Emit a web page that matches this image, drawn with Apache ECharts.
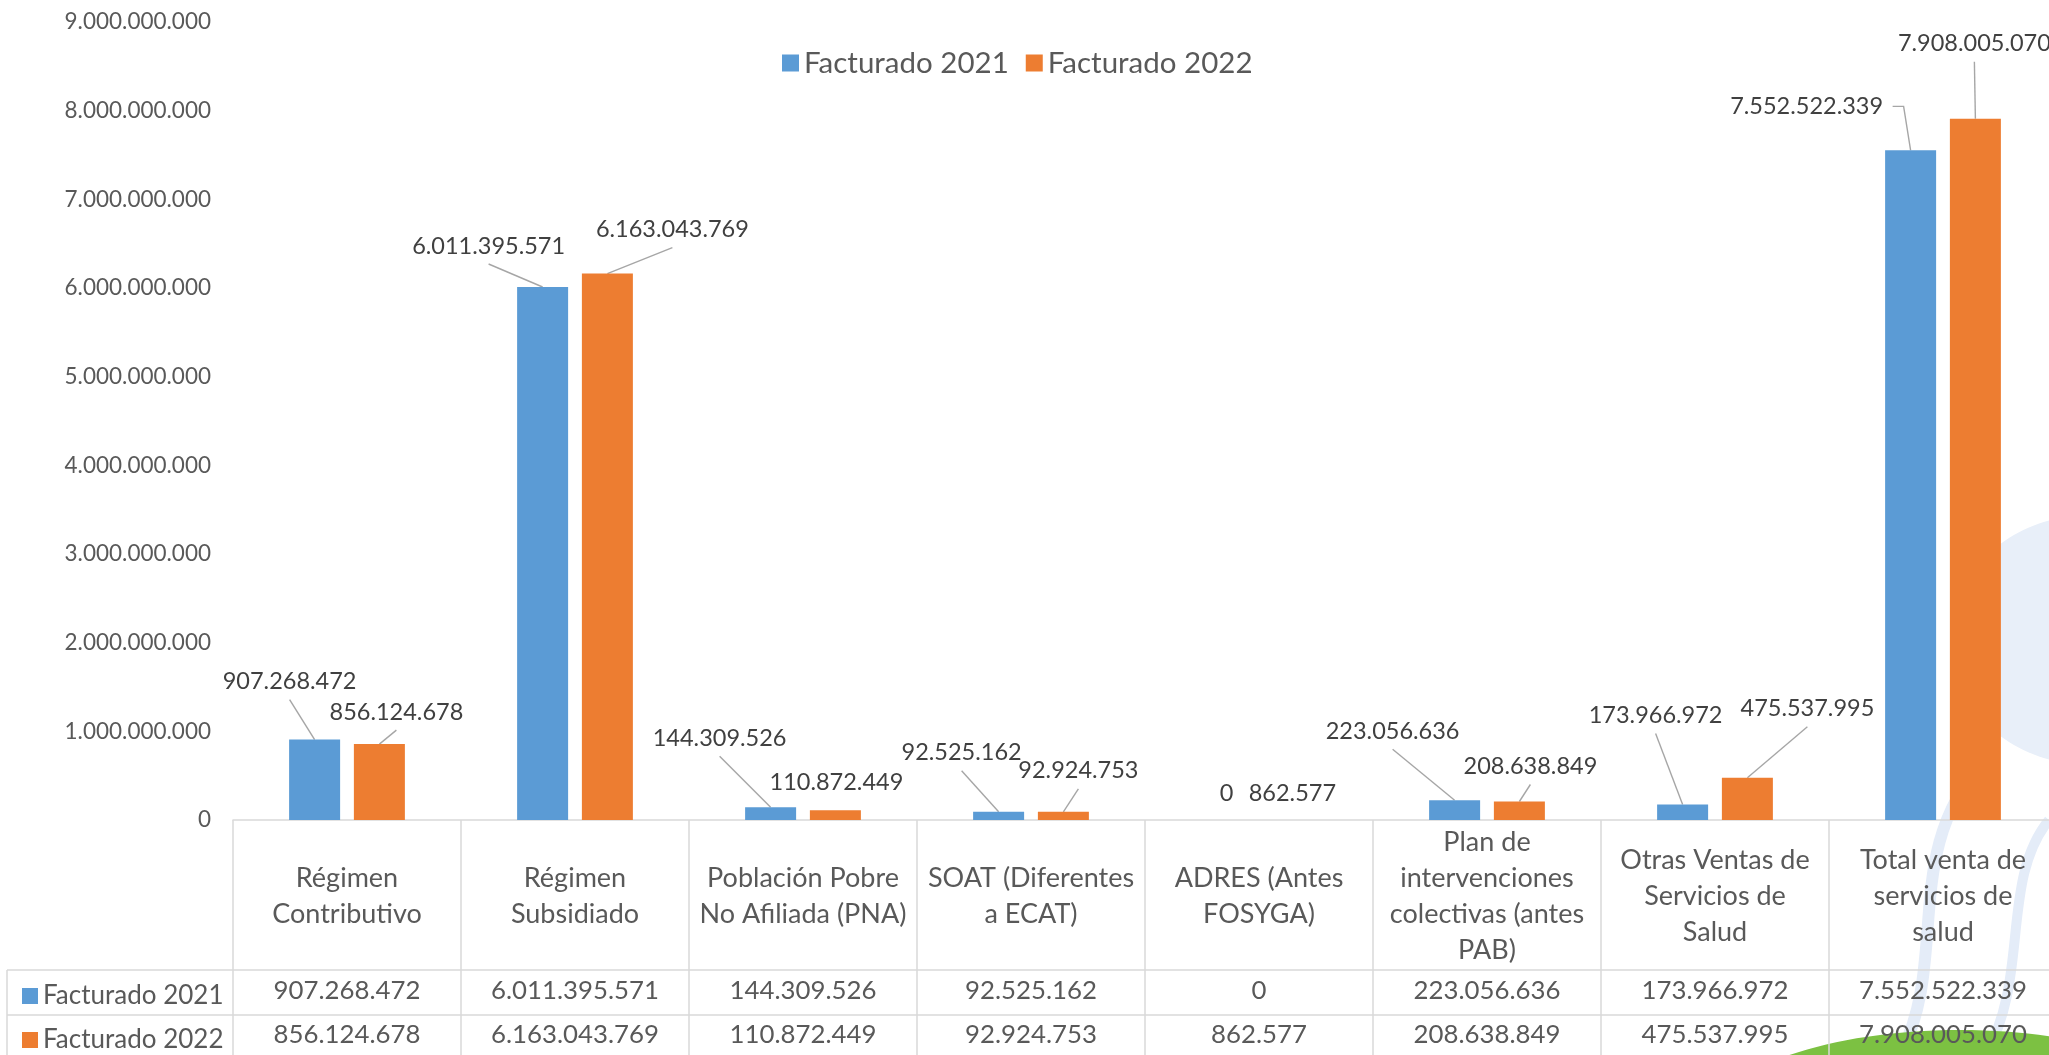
<!DOCTYPE html>
<html>
<head>
<meta charset="utf-8">
<script src="https://cdn.jsdelivr.net/npm/echarts@6/dist/echarts.min.js"></script>
<style>
  html, body { margin: 0; padding: 0; background: #ffffff; }
  #chart { width: 2049px; height: 1055px; }
</style>
</head>
<body>
<div id="chart"></div>
<script>
// Categories (line breaks follow the wrapping of the table header cells)
const categories = [
  'Régimen\nContributivo',
  'Régimen\nSubsidiado',
  'Población Pobre\nNo Afiliada (PNA)',
  'SOAT (Diferentes\na ECAT)',
  'ADRES (Antes\nFOSYGA)',
  'Plan de\nintervenciones\ncolectivas (antes\nPAB)',
  'Otras Ventas de\nServicios de\nSalud',
  'Total venta de\nservicios de\nsalud'
];
const seriesNames = ['Facturado 2021', 'Facturado 2022'];
const facturado2021 = [907268472, 6011395571, 144309526, 92525162, 0, 223056636, 173966972, 7552522339];
const facturado2022 = [856124678, 6163043769, 110872449, 92924753, 862577, 208638849, 475537995, 7908005070];
const yMin = 0;
const yMax = 9000000000;
const yInterval = 1000000000;

// Label placement: offset of each value label from the top-centre of its bar (px)
const labelOffsets = [
  [[-25, -58], [-54, -41], [-51, -69], [-37, -59], [0, -27], [-62, -69], [-27, -89], [-104, -44]],
  [[17, -32], [65, -44], [1, -28], [15, -41], [1, -27], [11, -35], [60, -69], [-1, -75]]
];
// Leader line start, relative to the label centre; null = no leader.
// The line then runs to the top-centre of the bar.
const UNDER = [[0, 18]];
const leaderStarts = [
  [UNDER, UNDER, UNDER, UNDER, null, UNDER, UNDER, [[86, 0], [97, 0]]],
  [UNDER, UNDER, null, UNDER, null, UNDER, UNDER, UNDER]
];

const COLORS = ['#5B9BD5', '#ED7D31'];
const FONT = 'Lato';
const BAR_WIDTH = 51;
const BAR_GAP = 0.27;
const AXIS_Y = 820;          // baseline of the plot / top of the data table
const ROW1_Y = 991;          // centre of the "Facturado 2021" table row
const ROW2_Y = 1035;         // centre of the "Facturado 2022" table row
const RULE_Y1 = 970;         // rule above the first value row
const RULE_Y2 = 1015;        // rule between the two value rows
const RULE_COLOR = '#d9d9d9';
const LEADER_COLOR = '#a6a6a6';

const fmt = v => String(Math.round(v)).replace(/\B(?=(\d{3})+(?!\d))/g, '.');

// horizontal distance from the category centre to the centre of each bar
const barShift = s => (s === 0 ? -1 : 1) * BAR_WIDTH * (1 + BAR_GAP) / 2;

function barSeries(s, values) {
  return {
    name: seriesNames[s],
    type: 'bar',
    xAxisIndex: 0,
    barWidth: BAR_WIDTH,
    barGap: (BAR_GAP * 100) + '%',
    data: values,
    itemStyle: { color: COLORS[s] },
    label: {
      show: true,
      position: 'top',
      formatter: p => fmt(p.value),
      fontSize: 23.5,
      fontFamily: FONT,
      color: '#404040'
    },
    labelLayout: p => {
      const o = labelOffsets[s][p.dataIndex];
      return {
        x: p.rect.x + p.rect.width / 2 + o[0],
        y: p.rect.y + o[1],
        align: 'center',
        verticalAlign: 'middle'
      };
    },
    z: 3
  };
}

// leader lines from each moved label down to the top of its bar
function leaderSeries(s, values) {
  return {
    name: seriesNames[s] + ' (guías)',
    type: 'custom',
    xAxisIndex: 0,
    yAxisIndex: 0,
    silent: true,
    z: 2,
    data: values.map((v, i) => [i, v]),
    renderItem: (params, api) => {
      const i = params.dataIndex;
      const start = leaderStarts[s][i];
      if (!start) return null;
      const top = api.coord([api.value(0), api.value(1)]);
      const bx = top[0] + barShift(s);
      const by = top[1];
      const o = labelOffsets[s][i];
      const lx = bx + o[0];
      const ly = by + o[1];
      const points = start.map(p => [lx + p[0], ly + p[1]]);
      points.push([bx, by]);
      return {
        type: 'polyline',
        shape: { points: points },
        style: { stroke: LEADER_COLOR, lineWidth: 1.4, fill: null }
      };
    }
  };
}

function valueRowAxis(offset, values) {
  return {
    type: 'category',
    data: categories,
    position: 'bottom',
    offset: offset,
    axisLine: { show: false },
    axisTick: { show: false },
    axisLabel: {
      interval: 0,
      margin: 0,
      verticalAlign: 'middle',
      formatter: (v, i) => fmt(values[i]),
      fontSize: 25.8,
      fontFamily: FONT,
      color: '#595959'
    }
  };
}

// one-entry legend placed in the first column of a table row
function rowLegend(name, rowY) {
  return {
    data: [name],
    left: 17,
    top: rowY - 15,
    icon: 'rect',
    itemWidth: 16,
    itemHeight: 16,
    selectedMode: false,
    textStyle: { fontSize: 26, lineHeight: 30, color: '#595959', fontFamily: FONT }
  };
}

const chart = echarts.init(document.getElementById('chart'), null, { renderer: 'canvas' });

chart.setOption({
  animation: false,
  backgroundColor: '#ffffff',
  textStyle: { fontFamily: FONT },
  grid: {
    left: 233, width: 1824, top: 22, height: AXIS_Y - 22,
    containLabel: false,
    outerBoundsMode: 'none'
  },
  legend: [
    {
      data: seriesNames,
      left: 777,
      top: 43,
      icon: 'rect',
      itemWidth: 17,
      itemHeight: 17,
      itemGap: 17,
      selectedMode: false,
      textStyle: { fontSize: 29.5, color: '#595959', fontFamily: FONT }
    },
    rowLegend(seriesNames[0], ROW1_Y),
    rowLegend(seriesNames[1], ROW2_Y)
  ],
  xAxis: [
    {
      type: 'category',
      data: categories,
      axisLine: { show: true, lineStyle: { color: RULE_COLOR, width: 1.5 } },
      axisTick: { show: true, alignWithLabel: false, length: 260, lineStyle: { color: RULE_COLOR, width: 1.5 } },
      axisLabel: {
        interval: 0,
        margin: 76,
        verticalAlign: 'middle',
        align: 'center',
        lineHeight: 36,
        fontSize: 27,
        fontFamily: FONT,
        color: '#595959'
      },
      splitLine: { show: false }
    },
    valueRowAxis(ROW1_Y - AXIS_Y, facturado2021),
    valueRowAxis(ROW2_Y - AXIS_Y, facturado2022)
  ],
  yAxis: {
    type: 'value',
    min: yMin,
    max: yMax,
    interval: yInterval,
    axisLine: { show: false },
    axisTick: { show: false },
    splitLine: { show: false },
    axisLabel: {
      formatter: v => fmt(v),
      margin: 22,
      fontSize: 22.5,
      fontFamily: FONT,
      color: '#595959'
    }
  },
  graphic: [
    // soft watermark figure behind the right-hand columns
    { type: 'ellipse', shape: { cx: 2090, cy: 640, rx: 140, ry: 125 }, style: { fill: '#e8eff9' }, z: -10, silent: true },
    { type: 'bezierCurve', shape: { x1: 1985, y1: 760, x2: 1900, y2: 1055, cpx1: 1900, cpy1: 850, cpx2: 1950, cpy2: 960 },
      style: { stroke: '#e4ecf8', lineWidth: 12, fill: null }, z: -10, silent: true },
    { type: 'bezierCurve', shape: { x1: 2049, y1: 820, x2: 1985, y2: 1055, cpx1: 2000, cpy1: 880, cpx2: 2030, cpy2: 980 },
      style: { stroke: '#e4ecf8', lineWidth: 10, fill: null }, z: -10, silent: true },
    { type: 'ellipse', shape: { cx: 1960, cy: 1132, rx: 260, ry: 102 }, style: { fill: '#7cc142' }, z: -9, silent: true },
    // data table rules outside the plotting grid
    { type: 'line', shape: { x1: 7, y1: RULE_Y1, x2: 2049, y2: RULE_Y1 }, style: { stroke: RULE_COLOR, lineWidth: 1.5 }, silent: true },
    { type: 'line', shape: { x1: 7, y1: RULE_Y2, x2: 2049, y2: RULE_Y2 }, style: { stroke: RULE_COLOR, lineWidth: 1.5 }, silent: true },
    { type: 'line', shape: { x1: 7, y1: RULE_Y1, x2: 7, y2: 1055 }, style: { stroke: RULE_COLOR, lineWidth: 1.5 }, silent: true }
  ],
  series: [
    barSeries(0, facturado2021),
    barSeries(1, facturado2022),
    leaderSeries(0, facturado2021),
    leaderSeries(1, facturado2022)
  ]
});
</script>
</body>
</html>
